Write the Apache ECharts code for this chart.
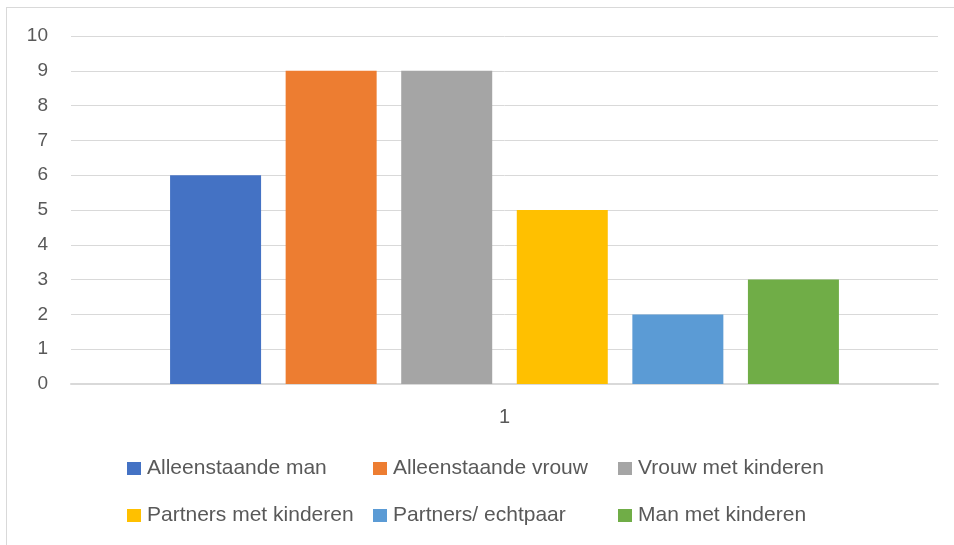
<!DOCTYPE html>
<html>
<head>
    <meta charset="utf-8">
    <title>Huishoudens</title>
    <script src="https://cdn.jsdelivr.net/npm/echarts@6/dist/echarts.min.js"></script>
    <style>
        * {
            margin: 0;
            padding: 0
        }

        html, body {
            width: 954px;
            height: 545px;
            background: #fff;
            overflow: hidden;
        }

        #frame {
            position: absolute;
            left: 6px;
            top: 7px;
            width: 960px;
            height: 560px;
            border: 1px solid #d9d9d9;
        }

        #main {
            position: absolute;
            left: 0;
            top: 0;
            width: 954px;
            height: 545px;
        }
    </style>
</head>
<body>
<div id="frame"></div>
<div id="main"></div>

<script type="text/javascript">
    // categorie en waarden
    var categories = ['1'];
    var names = ['Alleenstaande man', 'Alleenstaande vrouw', 'Vrouw met kinderen',
        'Partners met kinderen', 'Partners/ echtpaar', 'Man met kinderen'];
    var values = [6, 9, 9, 5, 2, 3];
    var colors = ['#4472c4', '#ed7d31', '#a5a5a5', '#ffc000', '#5b9bd5', '#70ad47'];
    var yTicks = [0, 1, 2, 3, 4, 5, 6, 7, 8, 9, 10];

    // legenda posities (Excel-stijl, twee rijen)
    var legendPos = [[127, 458], [373, 458], [618, 458], [127, 505], [373, 505], [618, 505]];

    var font = 'Liberation Sans';

    var myChart = echarts.init(document.getElementById('main'));

    var series = [];
    var legends = [];
    for (var i = 0; i < names.length; i++) {
        series.push({
            name: names[i],
            type: 'bar',
            data: [values[i]],
            barWidth: 91,
            barGap: '27%',
            itemStyle: {color: colors[i]}
        });
        legends.push({
            data: [names[i]],
            left: legendPos[i][0],
            top: legendPos[i][1],
            icon: 'rect',
            itemWidth: 14,
            itemHeight: 13,
            itemGap: 0,
            padding: 0,
            textStyle: {color: '#595959', fontSize: 21, fontFamily: font, padding: [0, 0, 0, 1]}
        });
    }

    myChart.setOption({
        animation: false,
        color: colors,
        legend: legends,
        grid: {left: 71, right: 16, top: 36, bottom: 161},
        xAxis: {
            type: 'category',
            data: categories,
            axisTick: {show: false},
            axisLine: {lineStyle: {color: '#d9d9d9', width: 2}},
            axisLabel: {color: '#595959', fontSize: 20, fontFamily: font, margin: 23}
        },
        yAxis: {
            type: 'value',
            min: yTicks[0],
            max: yTicks[yTicks.length - 1],
            interval: 1,
            axisLabel: {color: '#595959', fontSize: 19, fontFamily: font, margin: 23},
            splitLine: {lineStyle: {color: '#d9d9d9', width: 1}},
            axisLine: {show: false},
            axisTick: {show: false}
        },
        series: series
    });
</script>
</body>
</html>
